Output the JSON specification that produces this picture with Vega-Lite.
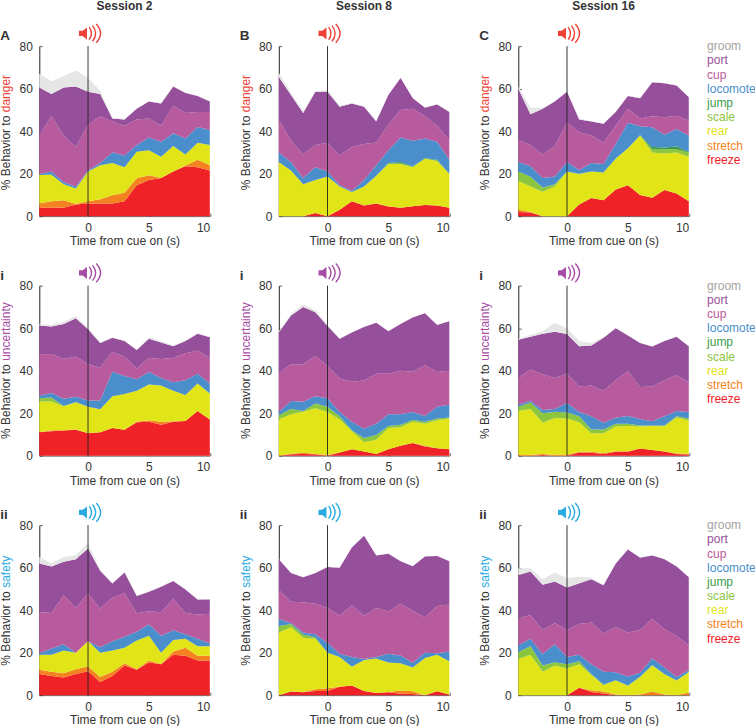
{"$schema":"https://vega.github.io/schema/vega-lite/v6.json","padding":{"left":-0.7,"top":-0.86,"right":0,"bottom":0},"background":"white","data":{"values":[
{"panel":"A","tag":"A","cue":"danger","session":"Session 2"},{"panel":"B","tag":"B","cue":"danger","session":"Session 8"},{"panel":"C","tag":"C","cue":"danger","session":"Session 16"},
{"panel":"Ai","tag":"i","cue":"uncertainty"},{"panel":"Bi","tag":"i","cue":"uncertainty"},{"panel":"Ci","tag":"i","cue":"uncertainty"},
{"panel":"Aii","tag":"ii","cue":"safety"},{"panel":"Bii","tag":"ii","cue":"safety"},{"panel":"Cii","tag":"ii","cue":"safety"},
{"panel":"C","legend":"groom","rank":0},{"panel":"C","legend":"port","rank":1},{"panel":"C","legend":"cup","rank":2},{"panel":"C","legend":"locomote","rank":3},{"panel":"C","legend":"jump","rank":4},{"panel":"C","legend":"scale","rank":5},{"panel":"C","legend":"rear","rank":6},{"panel":"C","legend":"stretch","rank":7},{"panel":"C","legend":"freeze","rank":8},
{"panel":"Ci","legend":"groom","rank":0},{"panel":"Ci","legend":"port","rank":1},{"panel":"Ci","legend":"cup","rank":2},{"panel":"Ci","legend":"locomote","rank":3},{"panel":"Ci","legend":"jump","rank":4},{"panel":"Ci","legend":"scale","rank":5},{"panel":"Ci","legend":"rear","rank":6},{"panel":"Ci","legend":"stretch","rank":7},{"panel":"Ci","legend":"freeze","rank":8},
{"panel":"Cii","legend":"groom","rank":0},{"panel":"Cii","legend":"port","rank":1},{"panel":"Cii","legend":"cup","rank":2},{"panel":"Cii","legend":"locomote","rank":3},{"panel":"Cii","legend":"jump","rank":4},{"panel":"Cii","legend":"scale","rank":5},{"panel":"Cii","legend":"rear","rank":6},{"panel":"Cii","legend":"stretch","rank":7},{"panel":"Cii","legend":"freeze","rank":8},
{"panel":"A","t":-4,"freeze":4,"stretch":2,"rear":13.5,"scale":0,"jump":0,"locomote":0.3,"cup":18.2,"port":22.5,"groom":6.5},
{"panel":"A","t":-3,"freeze":4,"stretch":3,"rear":12.5,"scale":0,"jump":0,"locomote":1.5,"cup":26,"port":10.5,"groom":6},
{"panel":"A","t":-2,"freeze":4,"stretch":3.5,"rear":7.5,"scale":0,"jump":0,"locomote":1,"cup":22,"port":22.5,"groom":5.5},
{"panel":"A","t":-1,"freeze":5.5,"stretch":0.2,"rear":7.3,"scale":0,"jump":0,"locomote":1,"cup":18.5,"port":28.5,"groom":7.5},
{"panel":"A","t":0,"freeze":6,"stretch":1,"rear":14,"scale":0,"jump":0,"locomote":0.5,"cup":21.5,"port":15.5,"groom":6.5},
{"panel":"A","t":1,"freeze":6,"stretch":2,"rear":16,"scale":0,"jump":0,"locomote":1,"cup":22,"port":10.5,"groom":1.5},
{"panel":"A","t":2,"freeze":6,"stretch":3.8,"rear":15.2,"scale":0,"jump":0,"locomote":5,"cup":14.5,"port":1.5,"groom":0.3},
{"panel":"A","t":3,"freeze":7,"stretch":4,"rear":12,"scale":0,"jump":0,"locomote":5.5,"cup":14,"port":3,"groom":0.2},
{"panel":"A","t":4,"freeze":14.5,"stretch":3.3,"rear":12.5,"scale":0,"jump":0,"locomote":3.2,"cup":12,"port":5,"groom":0.2},
{"panel":"A","t":5,"freeze":17,"stretch":2.2,"rear":11.8,"scale":0,"jump":0,"locomote":6,"cup":9,"port":8,"groom":0},
{"panel":"A","t":6,"freeze":18,"stretch":0,"rear":10,"scale":0,"jump":0,"locomote":7,"cup":7.5,"port":10.5,"groom":0.2},
{"panel":"A","t":7,"freeze":21,"stretch":0,"rear":12,"scale":0,"jump":0,"locomote":6,"cup":13,"port":9,"groom":0.2},
{"panel":"A","t":8,"freeze":23.5,"stretch":0.3,"rear":5.2,"scale":0,"jump":0,"locomote":7.5,"cup":12,"port":9.5,"groom":0},
{"panel":"A","t":9,"freeze":23,"stretch":3.5,"rear":8,"scale":0,"jump":0,"locomote":7.5,"cup":7,"port":7.5,"groom":0.1},
{"panel":"A","t":10,"freeze":21.5,"stretch":2.5,"rear":9.5,"scale":0,"jump":0,"locomote":7,"cup":8.5,"port":5,"groom":0},
{"panel":"B","t":-4,"freeze":0,"stretch":0,"rear":25.5,"scale":0,"jump":0,"locomote":4.5,"cup":15.5,"port":20,"groom":2},
{"panel":"B","t":-3,"freeze":0,"stretch":0,"rear":21.5,"scale":0,"jump":0,"locomote":4,"cup":10,"port":21.5,"groom":1},
{"panel":"B","t":-2,"freeze":0,"stretch":0,"rear":15,"scale":0,"jump":0,"locomote":3,"cup":11,"port":19.5,"groom":1},
{"panel":"B","t":-1,"freeze":1.5,"stretch":0,"rear":15.5,"scale":0,"jump":0,"locomote":6,"cup":10.5,"port":25,"groom":0.2},
{"panel":"B","t":0,"freeze":0,"stretch":0,"rear":18.7,"scale":0,"jump":0,"locomote":2.3,"cup":13.5,"port":24,"groom":1},
{"panel":"B","t":1,"freeze":3,"stretch":0,"rear":11,"scale":0,"jump":0,"locomote":0.5,"cup":14,"port":23,"groom":0.5},
{"panel":"B","t":2,"freeze":7,"stretch":0,"rear":4.3,"scale":0,"jump":0,"locomote":0.7,"cup":20.5,"port":20.5,"groom":0.2},
{"panel":"B","t":3,"freeze":5,"stretch":0,"rear":9,"scale":0,"jump":0,"locomote":3,"cup":17,"port":17.5,"groom":0.1},
{"panel":"B","t":4,"freeze":6,"stretch":0,"rear":13,"scale":0,"jump":0,"locomote":5,"cup":10.7,"port":9.8,"groom":0.2},
{"panel":"B","t":5,"freeze":4.5,"stretch":0,"rear":20,"scale":0.3,"jump":0.2,"locomote":6,"cup":12,"port":14,"groom":0},
{"panel":"B","t":6,"freeze":4,"stretch":0,"rear":20.5,"scale":0.3,"jump":0.7,"locomote":11.5,"cup":13,"port":15,"groom":0},
{"panel":"B","t":7,"freeze":4.7,"stretch":0,"rear":18.3,"scale":0.2,"jump":0.3,"locomote":12,"cup":15,"port":5,"groom":0},
{"panel":"B","t":8,"freeze":5.2,"stretch":0,"rear":21.8,"scale":0.1,"jump":0.2,"locomote":9.2,"cup":10.5,"port":4,"groom":0},
{"panel":"B","t":9,"freeze":5,"stretch":0,"rear":21,"scale":0.2,"jump":0.3,"locomote":8.5,"cup":7.5,"port":10,"groom":0},
{"panel":"B","t":10,"freeze":4,"stretch":0,"rear":16,"scale":0,"jump":0,"locomote":6.5,"cup":9.5,"port":13,"groom":0},
{"panel":"C","t":-4,"freeze":2,"stretch":1,"rear":13.5,"scale":4.5,"jump":0,"locomote":4.5,"cup":10.5,"port":24,"groom":1},
{"panel":"C","t":-3,"freeze":1.7,"stretch":0.3,"rear":12,"scale":4.5,"jump":0,"locomote":5,"cup":10,"port":14.5,"groom":3},
{"panel":"C","t":-2,"freeze":0,"stretch":0,"rear":11.5,"scale":2,"jump":0,"locomote":4.5,"cup":11,"port":21.5,"groom":0.5},
{"panel":"C","t":-1,"freeze":0,"stretch":0,"rear":14,"scale":1,"jump":0,"locomote":3.7,"cup":14.3,"port":21,"groom":0},
{"panel":"C","t":0,"freeze":0,"stretch":0,"rear":21,"scale":0,"jump":0,"locomote":4.5,"cup":18.5,"port":14.5,"groom":0.2},
{"panel":"C","t":1,"freeze":5.5,"stretch":0,"rear":14.2,"scale":0.2,"jump":0.1,"locomote":1.7,"cup":17.8,"port":6,"groom":0.5},
{"panel":"C","t":2,"freeze":8.5,"stretch":0,"rear":12.5,"scale":0,"jump":0,"locomote":4,"cup":13,"port":6.5,"groom":0.2},
{"panel":"C","t":3,"freeze":7.5,"stretch":0,"rear":13,"scale":0,"jump":0.2,"locomote":3.8,"cup":10,"port":9,"groom":0.2},
{"panel":"C","t":4,"freeze":12.5,"stretch":0,"rear":14.5,"scale":0,"jump":0.2,"locomote":6.8,"cup":8.5,"port":6.5,"groom":0},
{"panel":"C","t":5,"freeze":14.5,"stretch":0,"rear":17.5,"scale":0,"jump":0,"locomote":12,"cup":6.5,"port":6,"groom":0.2},
{"panel":"C","t":6,"freeze":10,"stretch":0,"rear":28,"scale":0,"jump":0.2,"locomote":4.1,"cup":3.7,"port":9.5,"groom":0.2},
{"panel":"C","t":7,"freeze":8.7,"stretch":0,"rear":21.3,"scale":1.5,"jump":1,"locomote":9.3,"cup":5.2,"port":16,"groom":0.2},
{"panel":"C","t":8,"freeze":12.3,"stretch":0,"rear":17.2,"scale":2,"jump":0.8,"locomote":6,"cup":8.2,"port":16,"groom":0.2},
{"panel":"C","t":9,"freeze":10.7,"stretch":0,"rear":19.3,"scale":1.5,"jump":1.3,"locomote":8.2,"cup":6.3,"port":14.2,"groom":0.1},
{"panel":"C","t":10,"freeze":7,"stretch":0,"rear":21,"scale":2,"jump":0.3,"locomote":7.7,"cup":7,"port":11,"groom":0},
{"panel":"Ai","t":-4,"freeze":11,"stretch":0,"rear":14.5,"scale":1.5,"jump":0,"locomote":1.2,"cup":19.5,"port":13.5,"groom":0.6},
{"panel":"Ai","t":-3,"freeze":11.5,"stretch":0.5,"rear":13.5,"scale":1.8,"jump":0,"locomote":2.2,"cup":18.3,"port":13,"groom":0.8},
{"panel":"Ai","t":-2,"freeze":11.8,"stretch":0.2,"rear":11.2,"scale":0.1,"jump":0,"locomote":3.5,"cup":18.7,"port":16.5,"groom":1},
{"panel":"Ai","t":-1,"freeze":12.2,"stretch":0.1,"rear":12.7,"scale":0.2,"jump":0,"locomote":2.5,"cup":19,"port":18,"groom":1},
{"panel":"Ai","t":0,"freeze":10.5,"stretch":0.2,"rear":12.3,"scale":0,"jump":0,"locomote":3,"cup":17,"port":16.5,"groom":0.5},
{"panel":"Ai","t":1,"freeze":11,"stretch":0,"rear":10.8,"scale":0,"jump":0,"locomote":4.2,"cup":15.5,"port":11.5,"groom":0.2},
{"panel":"Ai","t":2,"freeze":13,"stretch":0,"rear":15,"scale":0,"jump":0,"locomote":11.5,"cup":9.3,"port":6.7,"groom":0.2},
{"panel":"Ai","t":3,"freeze":12.2,"stretch":0,"rear":16.8,"scale":0,"jump":0,"locomote":8.5,"cup":9,"port":7.5,"groom":0.2},
{"panel":"Ai","t":4,"freeze":15.7,"stretch":0.2,"rear":14.6,"scale":0,"jump":0,"locomote":5.5,"cup":5,"port":8.7,"groom":0.3},
{"panel":"Ai","t":5,"freeze":16,"stretch":0.7,"rear":16.8,"scale":0,"jump":0,"locomote":5.8,"cup":6.7,"port":9,"groom":0.7},
{"panel":"Ai","t":6,"freeze":14.5,"stretch":1.5,"rear":17,"scale":0,"jump":0,"locomote":3.5,"cup":9,"port":7.7,"groom":0.6},
{"panel":"Ai","t":7,"freeze":16,"stretch":0.2,"rear":14.3,"scale":0,"jump":0,"locomote":4,"cup":11.5,"port":5.5,"groom":0.5},
{"panel":"Ai","t":8,"freeze":16.3,"stretch":0,"rear":12.2,"scale":0,"jump":0,"locomote":7,"cup":12.7,"port":5.8,"groom":0.3},
{"panel":"Ai","t":9,"freeze":21,"stretch":0,"rear":13,"scale":0,"jump":0,"locomote":4.5,"cup":11,"port":7.8,"groom":0.4},
{"panel":"Ai","t":10,"freeze":17,"stretch":0,"rear":12,"scale":0.3,"jump":0,"locomote":4.7,"cup":12,"port":9.7,"groom":0.2},
{"panel":"Bi","t":-4,"freeze":0,"stretch":0,"rear":17,"scale":2,"jump":0,"locomote":1.5,"cup":18.5,"port":19,"groom":0.5},
{"panel":"Bi","t":-3,"freeze":0.7,"stretch":0.2,"rear":18.6,"scale":2.5,"jump":0,"locomote":3.7,"cup":17.3,"port":23,"groom":0.7},
{"panel":"Bi","t":-2,"freeze":0.8,"stretch":0.5,"rear":19.4,"scale":0.3,"jump":0,"locomote":4.3,"cup":17.7,"port":27,"groom":1},
{"panel":"Bi","t":-1,"freeze":0.6,"stretch":0.2,"rear":21.5,"scale":2.2,"jump":0,"locomote":3.5,"cup":19,"port":20.5,"groom":1},
{"panel":"Bi","t":0,"freeze":0,"stretch":0.3,"rear":20.2,"scale":2.5,"jump":0,"locomote":4,"cup":15.2,"port":18.8,"groom":0.5},
{"panel":"Bi","t":1,"freeze":1.5,"stretch":0,"rear":15.5,"scale":1.5,"jump":0,"locomote":2,"cup":15.8,"port":18.7,"groom":0.2},
{"panel":"Bi","t":2,"freeze":3,"stretch":0,"rear":8.5,"scale":0.5,"jump":0,"locomote":4,"cup":18.8,"port":23.2,"groom":0},
{"panel":"Bi","t":3,"freeze":2,"stretch":0,"rear":4.3,"scale":2,"jump":0,"locomote":4.4,"cup":22.6,"port":25.2,"groom":0},
{"panel":"Bi","t":4,"freeze":0.8,"stretch":0,"rear":6.7,"scale":2.2,"jump":0,"locomote":5.3,"cup":23.5,"port":24,"groom":0},
{"panel":"Bi","t":5,"freeze":3,"stretch":0,"rear":10,"scale":1,"jump":0,"locomote":5.5,"cup":19,"port":20,"groom":0},
{"panel":"Bi","t":6,"freeze":4.7,"stretch":0,"rear":8.6,"scale":1.2,"jump":0,"locomote":5,"cup":20.5,"port":22,"groom":0},
{"panel":"Bi","t":7,"freeze":6,"stretch":0,"rear":10,"scale":0.8,"jump":0,"locomote":3.7,"cup":19,"port":25.5,"groom":0},
{"panel":"Bi","t":8,"freeze":4.3,"stretch":0.3,"rear":10.4,"scale":1,"jump":0,"locomote":2.7,"cup":23.8,"port":24.5,"groom":0},
{"panel":"Bi","t":9,"freeze":3.5,"stretch":0,"rear":13.2,"scale":0.8,"jump":0,"locomote":5.5,"cup":16.3,"port":22.2,"groom":0},
{"panel":"Bi","t":10,"freeze":3,"stretch":0,"rear":14.5,"scale":0.5,"jump":0,"locomote":6,"cup":16,"port":23.2,"groom":0},
{"panel":"Ci","t":-4,"freeze":0,"stretch":0.3,"rear":20.7,"scale":2,"jump":0,"locomote":1,"cup":12.5,"port":18,"groom":0.5},
{"panel":"Ci","t":-3,"freeze":0,"stretch":0.3,"rear":21.7,"scale":3,"jump":0,"locomote":0.8,"cup":14.7,"port":15.5,"groom":0.8},
{"panel":"Ci","t":-2,"freeze":0.3,"stretch":0.5,"rear":14.7,"scale":4.5,"jump":0,"locomote":1.5,"cup":16.8,"port":19,"groom":1.2},
{"panel":"Ci","t":-1,"freeze":0,"stretch":0.3,"rear":17.4,"scale":3,"jump":0,"locomote":1.3,"cup":14.5,"port":21.8,"groom":4.2},
{"panel":"Ci","t":0,"freeze":0,"stretch":0.4,"rear":17.1,"scale":2.8,"jump":0,"locomote":4.5,"cup":13.7,"port":18.7,"groom":2.8},
{"panel":"Ci","t":1,"freeze":1.5,"stretch":0.3,"rear":13.9,"scale":2.8,"jump":0,"locomote":2,"cup":12,"port":19,"groom":2.5},
{"panel":"Ci","t":2,"freeze":1.3,"stretch":0.5,"rear":8.7,"scale":1.8,"jump":0,"locomote":6.2,"cup":14.5,"port":18.8,"groom":1.2},
{"panel":"Ci","t":3,"freeze":0.8,"stretch":0.4,"rear":9.3,"scale":1.8,"jump":0,"locomote":3.2,"cup":15,"port":25,"groom":0.5},
{"panel":"Ci","t":4,"freeze":1.8,"stretch":0.3,"rear":11.6,"scale":1.3,"jump":0,"locomote":2.8,"cup":17.7,"port":24.5,"groom":0},
{"panel":"Ci","t":5,"freeze":1.8,"stretch":0.3,"rear":11.9,"scale":1,"jump":0,"locomote":3.7,"cup":21,"port":16.8,"groom":0},
{"panel":"Ci","t":6,"freeze":3.4,"stretch":0,"rear":10.3,"scale":0.5,"jump":0,"locomote":3,"cup":15.1,"port":20.7,"groom":0},
{"panel":"Ci","t":7,"freeze":2.6,"stretch":0,"rear":11.4,"scale":0.2,"jump":0,"locomote":2,"cup":16.3,"port":18.8,"groom":0.2},
{"panel":"Ci","t":8,"freeze":2,"stretch":0,"rear":11.8,"scale":0.4,"jump":0,"locomote":4.3,"cup":17,"port":18.5,"groom":0.2},
{"panel":"Ci","t":9,"freeze":0.8,"stretch":0.2,"rear":17,"scale":0.5,"jump":0,"locomote":2.5,"cup":16.8,"port":18.2,"groom":0.2},
{"panel":"Ci","t":10,"freeze":0.5,"stretch":0.3,"rear":15.7,"scale":1,"jump":0,"locomote":3,"cup":14,"port":17,"groom":0.2},
{"panel":"Aii","t":-4,"freeze":10,"stretch":2,"rear":7,"scale":0,"jump":0,"locomote":0.7,"cup":19.3,"port":23,"groom":3},
{"panel":"Aii","t":-3,"freeze":9,"stretch":2,"rear":8,"scale":0,"jump":0,"locomote":3,"cup":16.7,"port":21.8,"groom":1.5},
{"panel":"Aii","t":-2,"freeze":8.3,"stretch":2,"rear":10.7,"scale":0,"jump":0,"locomote":3,"cup":23,"port":15.8,"groom":2.2},
{"panel":"Aii","t":-1,"freeze":10,"stretch":2.2,"rear":7.8,"scale":0,"jump":0,"locomote":0,"cup":21,"port":23,"groom":2},
{"panel":"Aii","t":0,"freeze":11.2,"stretch":2.3,"rear":12,"scale":0,"jump":0,"locomote":0,"cup":22.5,"port":21,"groom":2.5},
{"panel":"Aii","t":1,"freeze":6.2,"stretch":2.3,"rear":11.5,"scale":0,"jump":0,"locomote":2.5,"cup":18.2,"port":17.8,"groom":0.5},
{"panel":"Aii","t":2,"freeze":9,"stretch":2,"rear":10,"scale":0,"jump":0,"locomote":4.3,"cup":20.7,"port":6.5,"groom":0.2},
{"panel":"Aii","t":3,"freeze":14,"stretch":1,"rear":7.3,"scale":0,"jump":0,"locomote":5.2,"cup":20.5,"port":9.7,"groom":0.2},
{"panel":"Aii","t":4,"freeze":12,"stretch":0.2,"rear":13.5,"scale":0,"jump":0,"locomote":4.1,"cup":8.7,"port":8.2,"groom":0.2},
{"panel":"Aii","t":5,"freeze":15.3,"stretch":1,"rear":11.7,"scale":0,"jump":0,"locomote":5.3,"cup":6.2,"port":9.2,"groom":0.2},
{"panel":"Aii","t":6,"freeze":14.5,"stretch":0.2,"rear":5.3,"scale":0,"jump":0,"locomote":8,"cup":11,"port":12,"groom":0.2},
{"panel":"Aii","t":7,"freeze":19,"stretch":1.5,"rear":5.5,"scale":0,"jump":0,"locomote":4.5,"cup":14.8,"port":8.4,"groom":0.2},
{"panel":"Aii","t":8,"freeze":18.5,"stretch":3.8,"rear":4.2,"scale":0,"jump":0,"locomote":2.2,"cup":10,"port":11,"groom":0.2},
{"panel":"Aii","t":9,"freeze":16.3,"stretch":2.2,"rear":4.5,"scale":0,"jump":0,"locomote":3.5,"cup":11.5,"port":7,"groom":0.2},
{"panel":"Aii","t":10,"freeze":16.3,"stretch":2.2,"rear":4.5,"scale":0,"jump":0,"locomote":1.3,"cup":14,"port":6.7,"groom":0},
{"panel":"Bii","t":-4,"freeze":0,"stretch":0,"rear":29.5,"scale":3,"jump":0,"locomote":3.3,"cup":13.7,"port":14.5,"groom":0.2},
{"panel":"Bii","t":-3,"freeze":1.7,"stretch":0,"rear":30.3,"scale":1.5,"jump":0,"locomote":0.5,"cup":10,"port":13.5,"groom":0.1},
{"panel":"Bii","t":-2,"freeze":1.3,"stretch":0.2,"rear":25.5,"scale":1.5,"jump":0,"locomote":1,"cup":14.2,"port":11.8,"groom":0.1},
{"panel":"Bii","t":-1,"freeze":2,"stretch":0.8,"rear":23.7,"scale":0.7,"jump":0,"locomote":1.5,"cup":14.3,"port":14.5,"groom":0.2},
{"panel":"Bii","t":0,"freeze":2,"stretch":1.2,"rear":16.8,"scale":0,"jump":0,"locomote":4.5,"cup":16.5,"port":19.3,"groom":0.4},
{"panel":"Bii","t":1,"freeze":4,"stretch":0,"rear":14,"scale":0,"jump":0,"locomote":1.5,"cup":18,"port":22.5,"groom":0},
{"panel":"Bii","t":2,"freeze":4.5,"stretch":0,"rear":8.8,"scale":0,"jump":0,"locomote":4.7,"cup":24.3,"port":27.2,"groom":0},
{"panel":"Bii","t":3,"freeze":2,"stretch":0,"rear":14.5,"scale":0,"jump":0,"locomote":0.5,"cup":20.3,"port":37.7,"groom":0},
{"panel":"Bii","t":4,"freeze":1,"stretch":0,"rear":16.2,"scale":0,"jump":0,"locomote":0.8,"cup":23,"port":24.7,"groom":0},
{"panel":"Bii","t":5,"freeze":1.3,"stretch":0.2,"rear":13.8,"scale":0,"jump":0,"locomote":4.2,"cup":19.8,"port":27.2,"groom":0},
{"panel":"Bii","t":6,"freeze":0.7,"stretch":1.5,"rear":12.8,"scale":0,"jump":0,"locomote":3.7,"cup":24.3,"port":20,"groom":0},
{"panel":"Bii","t":7,"freeze":0.5,"stretch":1.3,"rear":11.2,"scale":0,"jump":0,"locomote":2.2,"cup":24.5,"port":21,"groom":0},
{"panel":"Bii","t":8,"freeze":0,"stretch":0,"rear":17.5,"scale":0,"jump":0,"locomote":2.5,"cup":16.7,"port":28.5,"groom":0},
{"panel":"Bii","t":9,"freeze":1.8,"stretch":0,"rear":17.2,"scale":0,"jump":0,"locomote":0.7,"cup":22.3,"port":23.5,"groom":0},
{"panel":"Bii","t":10,"freeze":0.3,"stretch":0,"rear":15.7,"scale":0,"jump":0,"locomote":4.5,"cup":22.2,"port":20.3,"groom":0},
{"panel":"Cii","t":-4,"freeze":0,"stretch":0,"rear":17,"scale":3.3,"jump":0,"locomote":3.2,"cup":12.5,"port":20.5,"groom":3.2},
{"panel":"Cii","t":-3,"freeze":0,"stretch":0,"rear":19,"scale":4,"jump":0,"locomote":3.5,"cup":11.2,"port":20.5,"groom":1.5},
{"panel":"Cii","t":-2,"freeze":0,"stretch":0,"rear":11,"scale":3,"jump":0,"locomote":5.3,"cup":11.2,"port":21.5,"groom":2.5},
{"panel":"Cii","t":-1,"freeze":0,"stretch":0,"rear":14,"scale":1.5,"jump":0,"locomote":8.5,"cup":10,"port":19.5,"groom":4.2},
{"panel":"Cii","t":0,"freeze":0,"stretch":0,"rear":12.5,"scale":2,"jump":0,"locomote":3.5,"cup":12.7,"port":20,"groom":4.3},
{"panel":"Cii","t":1,"freeze":3.5,"stretch":0,"rear":11,"scale":1.5,"jump":0,"locomote":3,"cup":14.5,"port":19.2,"groom":3},
{"panel":"Cii","t":2,"freeze":1.5,"stretch":0.8,"rear":7.2,"scale":0.5,"jump":0,"locomote":4.5,"cup":19.7,"port":20.3,"groom":0.7},
{"panel":"Cii","t":3,"freeze":0.8,"stretch":0.9,"rear":3,"scale":0.3,"jump":0,"locomote":6,"cup":18,"port":22.7,"groom":0.3},
{"panel":"Cii","t":4,"freeze":0,"stretch":0.3,"rear":6.7,"scale":0,"jump":0,"locomote":3.8,"cup":21.2,"port":30,"groom":0.2},
{"panel":"Cii","t":5,"freeze":0,"stretch":0,"rear":4.3,"scale":0.2,"jump":0,"locomote":4.3,"cup":20.7,"port":39,"groom":0},
{"panel":"Cii","t":6,"freeze":0,"stretch":0.3,"rear":8.2,"scale":0.2,"jump":0,"locomote":1.8,"cup":20.2,"port":34,"groom":0},
{"panel":"Cii","t":7,"freeze":0,"stretch":1.7,"rear":12.3,"scale":0.2,"jump":0,"locomote":3.1,"cup":18.7,"port":29.7,"groom":0},
{"panel":"Cii","t":8,"freeze":0,"stretch":0.3,"rear":9.5,"scale":0.2,"jump":0,"locomote":3,"cup":18,"port":33,"groom":0},
{"panel":"Cii","t":9,"freeze":0,"stretch":0,"rear":6.8,"scale":0.2,"jump":0,"locomote":1.5,"cup":19.3,"port":32.7,"groom":0},
{"panel":"Cii","t":10,"freeze":0,"stretch":1.2,"rear":9.5,"scale":0.3,"jump":0,"locomote":0.8,"cup":11.7,"port":32,"groom":0}
]},
"transform":[{"calculate":"substring(datum.panel,0,1)","as":"col"},{"calculate":"'r'+substring(datum.panel,1)","as":"row"}],
"facet":{"column":{"field":"col","type":"nominal","header":null,"sort":["A","B","C"]},"row":{"field":"row","type":"nominal","header":null,"sort":["r","ri","rii"]}},
"spacing":{"row":69.5,"column":68.5},"bounds":"flush",
"resolve":{"axis":{"x":"independent","y":"independent"}},
"spec":{"width":170.5,"height":170,
"layer":[
{"transform":[{"filter":"isValid(datum.t)"},{"fold":["freeze","stretch","rear","scale","jump","locomote","cup","port","groom"],"as":["behavior","pct"]},{"calculate":"indexof(['freeze','stretch','rear','scale','jump','locomote','cup','port','groom'],datum.behavior)","as":"stackRank"}],
"mark":{"type":"area","interpolate":"linear"},
"encoding":{
"x":{"field":"t","type":"quantitative","scale":{"domain":[-4,10],"nice":false,"zero":false},"axis":{"values":[0,5,10],"title":"Time from cue on (s)","grid":false,"tickSize":-3,"labelPadding":9,"titlePadding":2.5,"domainColor":"#222","tickColor":"#222","domainWidth":0.7,"tickWidth":0.7,"labelColor":"#333","titleColor":"#333","labelFontSize":12,"titleFontSize":12,"titleFontWeight":"normal","labelFont":"Liberation Sans","titleFont":"Liberation Sans"}},
"y":{"field":"pct","type":"quantitative","stack":"zero","scale":{"domain":[0,80],"nice":false},"axis":{"values":[0,20,40,60,80],"title":null,"grid":false,"tickSize":-3,"labelPadding":10,"domainColor":"#222","tickColor":"#222","domainWidth":1,"tickWidth":0.7,"labelColor":"#333","labelFontSize":12,"labelFont":"Liberation Sans"}},
"color":{"field":"behavior","type":"nominal","legend":null,"scale":{"domain":["freeze","stretch","rear","scale","jump","locomote","cup","port","groom","danger","uncertainty","safety"],"range":["#ee2227","#f58220","#e1e517","#8cc63f","#3a9b48","#4a8ecb","#b85a9e","#954f9b","#e6e6e6","#ef4136","#a64ca6","#29abe2"]}},
"order":{"field":"stackRank","type":"quantitative"}}},
{"transform":[{"filter":"isValid(datum.tag)"}],"mark":{"type":"rule","color":"#222","strokeWidth":0.9},"encoding":{"x":{"datum":0,"type":"quantitative"},"y":{"datum":0,"type":"quantitative"},"y2":{"datum":80}}},
{"transform":[{"filter":"isValid(datum.tag)"}],"mark":{"type":"point","shape":"M -0.6 -0.18 L -0.35 -0.18 L -0.07 -0.4 L -0.07 0.4 L -0.35 0.18 L -0.6 0.18 Z","size":900,"filled":true,"opacity":1,"strokeWidth":0},"encoding":{"x":{"datum":0,"type":"quantitative"},"y":{"datum":86,"type":"quantitative"},"color":{"field":"cue","type":"nominal","legend":null}}},
{"transform":[{"filter":"isValid(datum.tag)"}],"mark":{"type":"point","shape":"M 0.08 -0.42 Q 0.38 0 0.08 0.42 M 0.3 -0.52 Q 0.72 0 0.3 0.52 M 0.55 -0.62 Q 1.12 0 0.55 0.62","size":900,"filled":false,"opacity":1,"strokeWidth":1.4},"encoding":{"x":{"datum":0,"type":"quantitative"},"y":{"datum":86,"type":"quantitative"},"color":{"field":"cue","type":"nominal","legend":null}}},
{"transform":[{"filter":"isValid(datum.tag)"}],"mark":{"type":"text","align":"left","baseline":"middle","fontSize":13.5,"fontWeight":"bold","color":"#333","font":"Liberation Sans"},"encoding":{"x":{"datum":-7.2,"type":"quantitative"},"y":{"datum":84.7,"type":"quantitative"},"text":{"field":"tag"}}},
{"transform":[{"filter":"isValid(datum.session)"}],"mark":{"type":"text","align":"center","baseline":"middle","fontSize":12,"fontWeight":"bold","color":"#333","font":"Liberation Sans"},"encoding":{"x":{"datum":3,"type":"quantitative"},"y":{"datum":99,"type":"quantitative"},"text":{"field":"session"}}},
{"transform":[{"filter":"isValid(datum.tag)"},{"calculate":"{danger:47.3,uncertainty:43,safety:48.9}[datum.cue]","as":"split"}],"mark":{"type":"text","angle":270,"align":"right","baseline":"alphabetic","fontSize":12,"color":"#333","font":"Liberation Sans"},"encoding":{"x":{"datum":-6.4,"type":"quantitative"},"y":{"field":"split","type":"quantitative"},"text":{"value":"% Behavior to"}}},
{"transform":[{"filter":"isValid(datum.tag)"},{"calculate":"{danger:48.9,uncertainty:44.6,safety:50.5}[datum.cue]","as":"split"}],"mark":{"type":"text","angle":270,"align":"left","baseline":"alphabetic","fontSize":12,"font":"Liberation Sans"},"encoding":{"x":{"datum":-6.4,"type":"quantitative"},"y":{"field":"split","type":"quantitative"},"text":{"field":"cue"},"color":{"field":"cue","type":"nominal","legend":null}}},
{"transform":[{"filter":"isValid(datum.legend)"},{"calculate":"80-datum.rank*6.68","as":"level"}],"mark":{"type":"text","align":"left","baseline":"middle","fontSize":12,"font":"Liberation Sans"},"encoding":{"x":{"datum":11.5,"type":"quantitative"},"y":{"field":"level","type":"quantitative"},"text":{"field":"legend"},"color":{"condition":{"test":"datum.legend==='groom'","value":"#a3a3a3"},"field":"legend","type":"nominal","legend":null}}}
]},
"config":{"view":{"stroke":null},"font":"Liberation Sans"}}
